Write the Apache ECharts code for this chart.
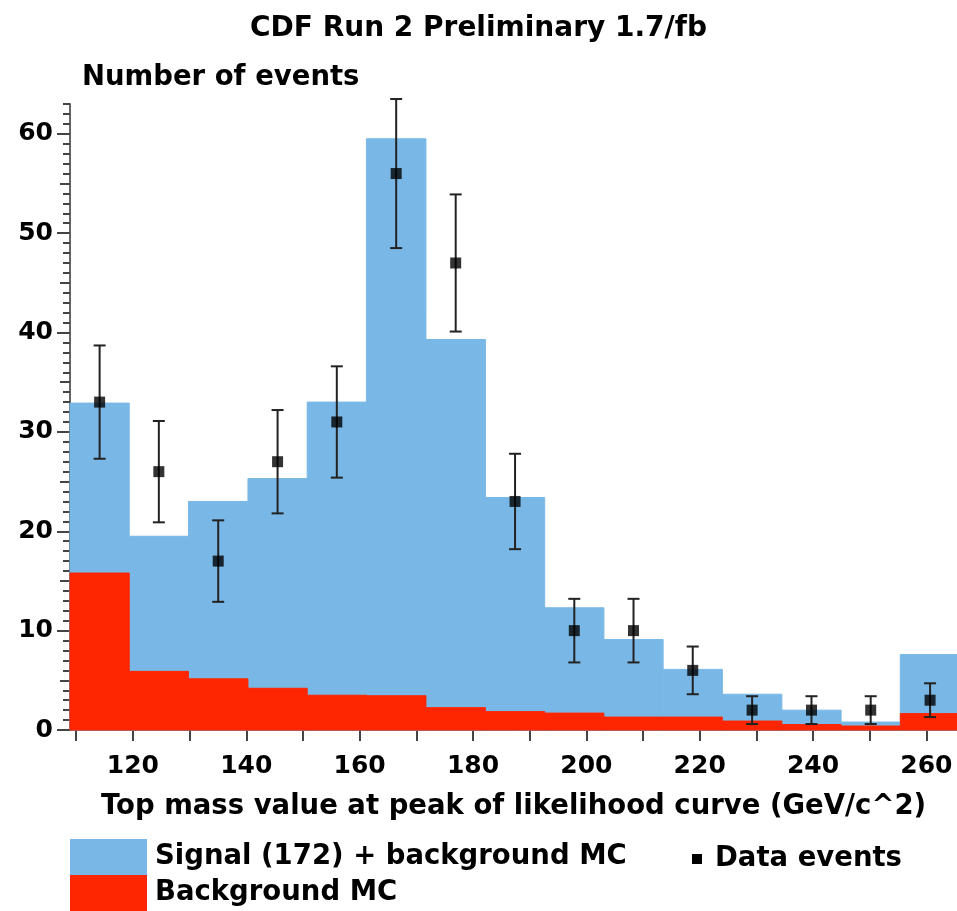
<!DOCTYPE html>
<html>
<head>
<meta charset="utf-8">
<title>CDF Run 2 Preliminary 1.7/fb</title>
<script src="https://cdn.jsdelivr.net/npm/echarts@6/dist/echarts.min.js"></script>
<style>
  html, body { margin: 0; padding: 0; background: #fff; }
  #chart { width: 957px; height: 911px; }
</style>
</head>
<body>
<div id="chart"></div>
<script>
// Histogram bin edges (GeV/c^2), 15 bins
const binEdges = [108.9, 119.35, 129.8, 140.3, 150.75, 161.2, 171.7, 182.2, 192.65, 203.1, 213.55, 224.0, 234.5, 244.95, 255.4, 265.9];

// Monte Carlo expectation: signal (Mtop = 172) + background, stacked total
const signalPlusBkg = [32.9, 19.5, 23.0, 25.3, 33.0, 59.5, 39.3, 23.4, 12.3, 9.1, 6.1, 3.6, 2.0, 0.8, 7.6];
// Background-only Monte Carlo
const backgroundMC = [15.8, 5.9, 5.15, 4.2, 3.5, 3.45, 2.25, 1.85, 1.7, 1.3, 1.3, 0.9, 0.55, 0.4, 1.65];

// Observed events per bin and their statistical uncertainties
const dataCounts = [33, 26, 17, 27, 31, 56, 47, 23, 10, 10, 6, 2, 2, 2, 3];
const dataErrors = [5.7, 5.1, 4.1, 5.2, 5.6, 7.5, 6.9, 4.8, 3.2, 3.2, 2.4, 1.4, 1.4, 1.4, 1.7];

// Axis ticks
const xTickValues = [110, 120, 130, 140, 150, 160, 170, 180, 190, 200, 210, 220, 230, 240, 250, 260];
const xLabelValues = [120, 140, 160, 180, 200, 220, 240, 260];
const yMajorValues = [0, 10, 20, 30, 40, 50, 60];
const yMidValues = [5, 15, 25, 35, 45, 55];

const BLUE = '#79b8e6';
const RED = '#fe2600';
const INK = '#222';
const FONT = 'DejaVu Sans';

const yMax = 63;
const yMinorValues = [];
for (let v = 0; v <= yMax; v++) yMinorValues.push(v);

// [low edge, high edge, content]
function histRows(values) {
  return values.map((v, i) => [binEdges[i], binEdges[i + 1], v]);
}
const binCenters = dataCounts.map((_, i) => (binEdges[i] + binEdges[i + 1]) / 2);

function renderBin(params, api) {
  const p0 = api.coord([api.value(0), api.value(2)]);
  const p1 = api.coord([api.value(1), 0]);
  const color = api.visual('color');
  return {
    type: 'rect',
    shape: { x: p0[0], y: p0[1], width: p1[0] - p0[0], height: p1[1] - p0[1] },
    style: { fill: color, stroke: color, lineWidth: 1 }
  };
}

function renderErrorBar(params, api) {
  const x = api.value(0), v = api.value(1), e = api.value(2);
  const top = api.coord([x, v + e]);
  const bot = api.coord([x, v - e]);
  const cap = 6;
  const st = { stroke: INK, lineWidth: 2 };
  return {
    type: 'group',
    children: [
      { type: 'line', shape: { x1: top[0], y1: top[1], x2: bot[0], y2: bot[1] }, style: st },
      { type: 'line', shape: { x1: top[0] - cap, y1: top[1], x2: top[0] + cap, y2: top[1] }, style: st },
      { type: 'line', shape: { x1: bot[0] - cap, y1: bot[1], x2: bot[0] + cap, y2: bot[1] }, style: st }
    ]
  };
}

const textBase = { fontFamily: FONT, fontWeight: 'bold', color: '#000' };

function tickAxis(values, length, extra) {
  return Object.assign({
    type: 'value',
    min: 0,
    max: yMax,
    position: 'left',
    axisLine: { show: false },
    axisTick: { show: true, inside: false, length: length, customValues: values,
                lineStyle: { color: '#444', width: 2 } },
    axisLabel: { show: false },
    splitLine: { show: false }
  }, extra || {});
}

const chart = echarts.init(document.getElementById('chart'), null, { renderer: 'canvas' });

chart.setOption({
  animation: false,
  backgroundColor: '#fff',
  title: {
    text: 'CDF Run 2 Preliminary 1.7/fb',
    left: 'center',
    top: 15,
    padding: 0,
    textStyle: Object.assign({ fontSize: 28 }, textBase)
  },
  legend: [
    {
      orient: 'vertical',
      left: 70,
      top: 839,
      height: 80,
      padding: 0,
      itemGap: 0,
      itemWidth: 77,
      itemHeight: 36,
      selectedMode: false,
      textStyle: Object.assign({ fontSize: 27.5, padding: [0, 0, 0, 3] }, textBase),
      data: [
        { name: 'Signal (172) + background MC', icon: 'rect', itemStyle: { color: BLUE } },
        { name: 'Background MC', icon: 'rect', itemStyle: { color: RED } }
      ]
    },
    {
      left: 692,
      top: 845,
      padding: 0,
      itemWidth: 10,
      itemHeight: 10,
      selectedMode: false,
      textStyle: Object.assign({ fontSize: 27.5, padding: [0, 0, 0, 8] }, textBase),
      data: [{ name: 'Data events', icon: 'rect', itemStyle: { color: '#000' } }]
    }
  ],
  grid: { left: 70, right: 0, top: 104, bottom: 181, containLabel: false },
  xAxis: {
    type: 'value',
    min: 108.9,
    max: 265.4,
    name: 'Top mass value at peak of likelihood curve (GeV/c^2)',
    nameLocation: 'middle',
    nameGap: 77,
    nameTextStyle: Object.assign({ fontSize: 27.5, verticalAlign: 'middle' }, textBase),
    axisLine: { show: true, onZero: false, lineStyle: { color: '#666', width: 1 } },
    axisTick: { show: true, inside: false, length: 11, customValues: xTickValues,
                lineStyle: { color: '#444', width: 2 } },
    axisLabel: Object.assign({ customValues: xLabelValues, fontSize: 25, margin: 24 }, textBase),
    splitLine: { show: false }
  },
  yAxis: [
    tickAxis(yMajorValues, 13, {
      name: 'Number of events',
      nameLocation: 'end',
      nameGap: 26,
      nameTextStyle: Object.assign({ fontSize: 27.5, align: 'left', verticalAlign: 'middle',
                                     padding: [0, 0, 0, 12] }, textBase),
      axisLine: { show: true, lineStyle: { color: '#666', width: 2 } },
      axisLabel: Object.assign({ show: true, customValues: yMajorValues, fontSize: 25,
                                 margin: 17, padding: [6, 0, 0, 0] }, textBase)
    }),
    tickAxis(yMidValues, 10),
    tickAxis(yMinorValues, 7)
  ],
  series: [
    {
      name: 'Signal (172) + background MC',
      type: 'custom',
      renderItem: renderBin,
      itemStyle: { color: BLUE },
      encode: { x: [0, 1], y: 2 },
      data: histRows(signalPlusBkg),
      z: 1
    },
    {
      name: 'Background MC',
      type: 'custom',
      renderItem: renderBin,
      itemStyle: { color: RED },
      encode: { x: [0, 1], y: 2 },
      data: histRows(backgroundMC),
      z: 2
    },
    {
      name: 'Data events',
      type: 'custom',
      renderItem: renderErrorBar,
      itemStyle: { color: INK },
      encode: { x: 0, y: 1 },
      data: dataCounts.map((c, i) => [binCenters[i], c, dataErrors[i]]),
      z: 3
    },
    {
      name: 'Data events',
      type: 'scatter',
      symbol: 'rect',
      symbolSize: 11,
      itemStyle: { color: '#000' },
      data: dataCounts.map((c, i) => [binCenters[i], c]),
      z: 4
    }
  ]
});
</script>
</body>
</html>
